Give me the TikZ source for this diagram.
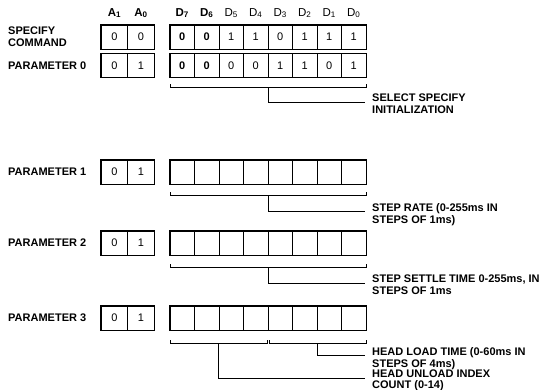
\documentclass[tikz,border=0pt]{standalone}
\usepackage{fontspec}
\setmainfont{Liberation Sans}
\tikzset{
  cell/.style={draw, line width=0.6pt, minimum width=24.5pt, minimum height=24pt, inner sep=0pt, anchor=center},
  acell/.style={draw, line width=0.6pt, minimum width=26.5pt, minimum height=24pt, inner sep=0pt, anchor=center},
  group/.style={line width=1.1pt},
  brk/.style={line width=0.7pt},
  lbl/.style={anchor=west, inner sep=0pt, font=\fontsize{11}{13}\selectfont\bfseries},
  note/.style={anchor=north west, align=left, inner sep=0pt, font=\fontsize{11}{12}\selectfont\bfseries},
  hdr/.style={anchor=center, inner sep=0pt, font=\fontsize{11.5}{13}\selectfont}
}
\newcommand\addrrow[2]{% #1 name, #2 y
  \node[acell] (#1a1) at (114.5,#2) {0};
  \node[acell] (#1a0) at (141,#2) {1};
  \draw[group] (#1a1.north west) rectangle (#1a0.south east);
}
\newcommand\emptyrow[2]{%
  \foreach \k in {1,...,8}{
    \node[cell] (#1d\k) at ({170+24.5*(\k-1)+12.25},#2) {};
  }
  \draw[group] (#1d1.north west) rectangle (#1d8.south east);
}
\newcommand\fullrow[3]{%
  \foreach \c [count=\k] in {#3}{
    \node[cell] (#1d\k) at ({170+24.5*(\k-1)+12.25},#2) {\c};
  }
  \draw[group] (#1d1.north west) rectangle (#1d8.south east);
}
\begin{document}
\begin{tikzpicture}[x=1pt,y=-1pt,font=\fontsize{11}{13}\selectfont]
\useasboundingbox (0,0) rectangle (544,389);
% headers
\node[hdr,font=\fontsize{11.5}{13}\selectfont\bfseries] (hA1) at (114.5,13) {A\textsubscript{1}};
\node[hdr,font=\fontsize{11.5}{13}\selectfont\bfseries] (hA0) at (141,13) {A\textsubscript{0}};
\foreach \n [count=\k] in {7,6,5,4,3,2,1,0}{
  \ifnum\k<3
    \node[hdr,font=\fontsize{11.5}{13}\selectfont\bfseries] (hD\n) at ({170+24.5*(\k-1)+12.25},13) {D\textsubscript{\n}};
  \else
    \node[hdr] (hD\n) at ({170+24.5*(\k-1)+12.25},13) {D\textsubscript{\n}};
  \fi
}
% specify command row
\node[note, anchor=west] (lS) at (8,37) {SPECIFY\\COMMAND};
\node[acell] (sa1) at (114.5,37) {0};
\node[acell] (sa0) at (141,37) {0};
\draw[group] (sa1.north west) rectangle (sa0.south east);
\fullrow{s}{37}{\textbf{0},\textbf{0},1,1,0,1,1,1}
% parameter 0
\node[lbl] (lP0) at (8,65.5) {PARAMETER 0};
\addrrow{p0}{65.5}
\fullrow{p}{65.5}{\textbf{0},\textbf{0},0,0,1,1,0,1}
\coordinate (b0l) at (170,87); \coordinate (b0r) at (366,87);
\coordinate (b0m) at (268,87); \coordinate (b0e) at (365,102);
\draw[brk] ([yshift=3pt]b0l) -- (b0l) -- (b0r) -- ([yshift=3pt]b0r);
\draw[brk] (b0m) |- (b0e);
\node[note] (t0) at (372,94) {SELECT SPECIFY\\INITIALIZATION};
% parameter 1
\node[lbl] (lP1) at (8,172) {PARAMETER 1};
\addrrow{p1}{172}
\emptyrow{q}{172}
\coordinate (b1l) at (170,195); \coordinate (b1r) at (366,195);
\coordinate (b1m) at (268,195); \coordinate (b1e) at (365,211);
\draw[brk] ([yshift=3pt]b1l) -- (b1l) -- (b1r) -- ([yshift=3pt]b1r);
\draw[brk] (b1m) |- (b1e);
\node[note] (t1) at (372,203) {STEP RATE (0-255ms IN\\STEPS OF 1ms)};
% parameter 2
\node[lbl] (lP2) at (8,243) {PARAMETER 2};
\addrrow{p2}{243}
\emptyrow{r}{243}
\coordinate (b2l) at (170,267); \coordinate (b2r) at (366,267);
\coordinate (b2m) at (268,267); \coordinate (b2e) at (365,283);
\draw[brk] ([yshift=3pt]b2l) -- (b2l) -- (b2r) -- ([yshift=3pt]b2r);
\draw[brk] (b2m) |- (b2e);
\node[note] (t2) at (372,275) {STEP SETTLE TIME 0-255ms, IN\\STEPS OF 1ms};
% parameter 3
\node[lbl] (lP3) at (8,318) {PARAMETER 3};
\addrrow{p3}{318}
\emptyrow{u}{318}
\coordinate (b3l) at (170,343); \coordinate (b3c1) at (267,343);
\coordinate (b3c2) at (269,343); \coordinate (b3r) at (366,343);
\draw[brk] ([yshift=3pt]b3l) -- (b3l) -- (b3c1) -- ([yshift=3pt]b3c1);
\draw[brk] ([yshift=3pt]b3c2) -- (b3c2) -- (b3r) -- ([yshift=3pt]b3r);
\coordinate (b3ml) at (218.5,343); \coordinate (b3mr) at (317.5,343);
\coordinate (b3el) at (365,378); \coordinate (b3er) at (365,355);
\draw[brk] (b3mr) |- (b3er);
\draw[brk] (b3ml) |- (b3el);
\node[note] (t3) at (372,347) {HEAD LOAD TIME (0-60ms IN\\STEPS OF 4ms)};
\node[note, font=\fontsize{11}{11}\selectfont\bfseries] (t4) at (372,370) {HEAD UNLOAD INDEX\\COUNT (0-14)};
\end{tikzpicture}
\end{document}
